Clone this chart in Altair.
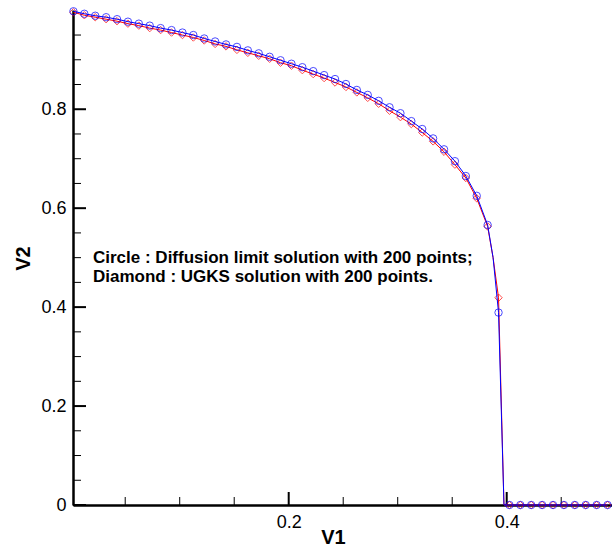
import altair as alt
import pandas as pd

# ---- data ----
x_marker = [0.0025, 0.0125, 0.0225, 0.0325, 0.0425, 0.0525, 0.0625, 0.0725, 0.0825, 0.0925,
            0.1025, 0.1125, 0.1225, 0.1325, 0.1425, 0.1525, 0.1625, 0.1725, 0.1825, 0.1925,
            0.2025, 0.2125, 0.2225, 0.2325, 0.2425, 0.2525, 0.2625, 0.2725, 0.2825, 0.2925,
            0.3025, 0.3125, 0.3225, 0.3325, 0.3425, 0.3525, 0.3625, 0.3725, 0.3825, 0.3925,
            0.4025, 0.4125, 0.4225, 0.4325, 0.4425, 0.4525, 0.4625, 0.4725, 0.4825, 0.4925]
circle_v2 = [0.998, 0.993, 0.989, 0.986, 0.982, 0.977, 0.973, 0.969, 0.964, 0.960,
             0.955, 0.950, 0.943, 0.937, 0.931, 0.926, 0.919, 0.913, 0.906, 0.899,
             0.892, 0.885, 0.877, 0.869, 0.861, 0.851, 0.839, 0.829, 0.817, 0.804,
             0.792, 0.776, 0.760, 0.741, 0.719, 0.695, 0.665, 0.625, 0.566, 0.389,
             0.0, 0.0, 0.0, 0.0, 0.0, 0.0, 0.0, 0.0, 0.0, 0.0]
diamond_v2 = [0.996, 0.990, 0.986, 0.982, 0.978, 0.973, 0.969, 0.964, 0.960, 0.955,
              0.950, 0.945, 0.939, 0.932, 0.927, 0.920, 0.914, 0.908, 0.902, 0.894,
              0.888, 0.879, 0.871, 0.863, 0.854, 0.845, 0.834, 0.823, 0.811, 0.797,
              0.784, 0.770, 0.753, 0.735, 0.714, 0.688, 0.661, 0.620, 0.563, 0.419,
              0.0, 0.0, 0.0, 0.0, 0.0, 0.0, 0.0, 0.0, 0.0, 0.0]
# extra curve points between markers near the front
x_extra = [0.3875, 0.3975]
circle_extra = [0.50, 0.0]
diamond_extra = [0.50, 0.0]

major_x = [0.2, 0.4]
minor_x = [0.05, 0.1, 0.15, 0.25, 0.3, 0.35, 0.45]
major_y = [0.0, 0.2, 0.4, 0.6, 0.8]
minor_y = [0.05, 0.1, 0.15, 0.25, 0.3, 0.35, 0.45, 0.5, 0.55, 0.65, 0.7, 0.75, 0.85, 0.9, 0.95]
note_lines = ["Circle : Diffusion limit solution with 200 points;",
              "Diamond : UGKS solution with 200 points."]

# ---- tables ----
markers = pd.DataFrame({"V1": x_marker, "circle": circle_v2, "diamond": diamond_v2})
blue_line = pd.DataFrame({"V1": x_marker + x_extra, "V2": circle_v2 + circle_extra})
red_line = pd.DataFrame({"V1": x_marker + x_extra, "V2": diamond_v2 + diamond_extra})
maj_x = pd.DataFrame({"V1": major_x})
min_x = pd.DataFrame({"V1": minor_x})
maj_y = pd.DataFrame({"V2": major_y})
min_y = pd.DataFrame({"V2": minor_y})
note_df = pd.DataFrame({"k": [0]})

W, H = 539, 495
FONT = "Liberation Sans"

xs = alt.Scale(domain=[0.0021, 0.4966], nice=False, zero=False)
ys = alt.Scale(domain=[0, 1.0006], nice=False, zero=False)

x_axis = alt.Axis(values=major_x, format="~g", title="V1", ticks=False, grid=False,
                  labelPadding=8, titleX=260, titleY=38, titleAlign="center",
                  titleBaseline="alphabetic")
y_axis = alt.Axis(values=major_y, format="~g", title="V2", ticks=False, grid=False,
                  labelPadding=7, titleAngle=270, titleX=-44, titleY=248,
                  titleAlign="center", titleBaseline="alphabetic")

X = alt.X("V1:Q", scale=xs, axis=x_axis)
Y = alt.Y("V2:Q", scale=ys, axis=y_axis)

red_l = alt.Chart(red_line).mark_line(color="#ff0000", strokeWidth=1).encode(x=X, y=Y)
blue_l = alt.Chart(blue_line).mark_line(color="#0000ff", strokeWidth=1).encode(x=X, y=Y)
red_p = alt.Chart(markers).mark_point(shape="diamond", filled=False, size=55,
                                      color="#ff0000", strokeWidth=1).encode(
    x=X, y=alt.Y("diamond:Q", scale=ys, axis=y_axis))
blue_p = alt.Chart(markers).mark_point(shape="circle", filled=False, size=55,
                                       color="#0000ff", strokeWidth=1).encode(
    x=X, y=alt.Y("circle:Q", scale=ys, axis=y_axis))

tick_maj_x = alt.Chart(maj_x).mark_rule(color="black", strokeWidth=2).encode(
    x=X, y=alt.value(H), y2=alt.value(H - 13))
tick_min_x = alt.Chart(min_x).mark_rule(color="black", strokeWidth=1).encode(
    x=X, y=alt.value(H), y2=alt.value(H - 8))
tick_maj_y = alt.Chart(maj_y).mark_rule(color="black", strokeWidth=2).encode(
    y=Y, x=alt.value(0), x2=alt.value(13))
tick_min_y = alt.Chart(min_y).mark_rule(color="black", strokeWidth=1).encode(
    y=Y, x=alt.value(0), x2=alt.value(8))

note = alt.Chart(note_df).mark_text(align="left", baseline="alphabetic", font=FONT,
                                    fontSize=17, fontWeight="bold", color="black",
                                    lineHeight=19).encode(
    x=alt.value(20), y=alt.value(253), text=alt.value(note_lines))

chart = alt.layer(
    tick_maj_x, tick_min_x, tick_maj_y, tick_min_y,
    red_l, red_p, blue_l, blue_p, note
).properties(
    width=W, height=H,
    autosize=alt.AutoSizeParams(type="none"),
    padding={"left": 73, "top": 10, "right": 0, "bottom": 41},
    background="white",
).configure_view(stroke=None).configure_axis(
    domainColor="black", domainWidth=2.5,
    labelFont=FONT, labelFontSize=18, labelColor="black",
    titleFont=FONT, titleFontSize=20, titleFontWeight="bold", titleColor="black",
)

chart.save("out.html", embed_options={"renderer": "svg", "actions": False})
